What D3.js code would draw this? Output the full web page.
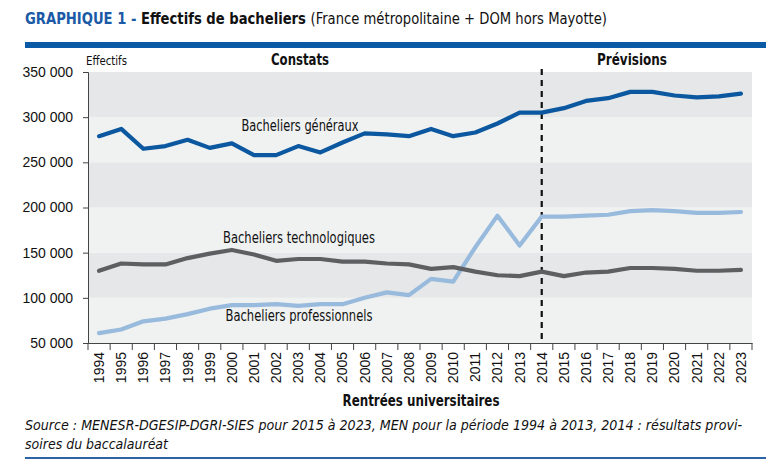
<!DOCTYPE html>
<html>
<head>
<meta charset="utf-8">
<script src="https://cdn.jsdelivr.net/npm/d3@7"></script>
<style>
  body { margin: 0; background: #fff; }
  svg { font-family: "Liberation Sans Narrow", "DejaVu Sans Condensed", "Roboto", sans-serif; }
</style>
</head>
<body>
<div id="chart"></div>
<script>
var years = d3.range(1994, 2024);

var generaux = [279000, 287000, 265000, 268000, 275000, 266000, 271000, 258000, 258000, 268000,
    261000, 272000, 282000, 281000, 279000, 287000, 279000, 283000, 293000, 305000,
    305000, 310000, 318000, 321000, 328000, 328000, 324000, 322000, 323000, 326000];
var technologiques = [130000, 138000, 137000, 137000, 144000, 149000, 153000, 148000, 141000, 143000,
    143000, 140000, 140000, 138000, 137000, 132000, 134000, 129000, 125000, 124000,
    129000, 124000, 128000, 129000, 133000, 133000, 132000, 130000, 130000, 131000];
var professionnels = [61000, 65000, 74000, 77000, 82000, 88000, 92000, 92000, 93000, 91000,
    93000, 93000, 100000, 106000, 103000, 121000, 118000, 156000, 191000, 158000,
    190000, 190000, 191000, 192000, 196000, 197000, 196000, 194000, 194000, 195000];
var yTicks = [50000, 100000, 150000, 200000, 250000, 300000, 350000];

var width = 775, height = 473;
var margin = {left: 88, right: 23, top: 72, bottom: 130};

var svg = d3.select("#chart").append("svg")
    .attr("width", width)
    .attr("height", height);

var x = d3.scaleBand()
    .domain(years)
    .range([margin.left, width - margin.right]);

var y = d3.scaleLinear()
    .domain([50000, 350000])
    .range([height - margin.bottom, margin.top]);

// title
var title = svg.append("text")
    .attr("x", 25)
    .attr("y", 24)
    .attr("textLength", 582)
    .attr("lengthAdjust", "spacingAndGlyphs")
    .style("font-size", "15px");
title.append("tspan").attr("fill", "#1b5aa6").attr("font-weight", "bold").text("GRAPHIQUE 1 - ");
title.append("tspan").attr("fill", "#111").attr("font-weight", "bold").text("Effectifs de bacheliers ");
title.append("tspan").attr("fill", "#111").text("(France métropolitaine + DOM hors Mayotte)");

svg.append("rect")
    .attr("x", 25).attr("y", 42)
    .attr("width", 741).attr("height", 6)
    .attr("fill", "#0b5aa6");

// background bands
var bands = svg.append("g");
for (var i = 0; i < yTicks.length - 1; i++) {
    bands.append("rect")
        .attr("x", margin.left)
        .attr("y", y(yTicks[i + 1]))
        .attr("width", x.range()[1] - margin.left)
        .attr("height", y(yTicks[i]) - y(yTicks[i + 1]))
        .attr("fill", i % 2 == 0 ? "#f0f1f1" : "#e6e7e8");
}

// axes
var yAxis = svg.append("g")
    .attr("transform", "translate(" + margin.left + ",0)")
    .call(d3.axisLeft(y)
        .tickValues(yTicks)
        .tickSize(5)
        .tickPadding(10)
        .tickFormat(function (d) { return d3.format(",")(d).replace(",", " "); }));
yAxis.selectAll("text").style("font-size", "14px").attr("fill", "#111");
yAxis.selectAll("line, path").attr("stroke", "#444");

var xAxis = svg.append("g")
    .attr("transform", "translate(0," + y(50000) + ")")
    .call(d3.axisBottom(x).tickSize(0).tickPadding(0));
xAxis.select("path").attr("stroke", "#444");
xAxis.selectAll("text")
    .style("font-size", "14px")
    .attr("fill", "#111")
    .attr("text-anchor", "end")
    .attr("dy", "0.35em")
    .attr("transform", "translate(0,9) rotate(-90)")
    .attr("x", 0).attr("y", 0);

// boundary ticks on x axis
svg.append("g").selectAll("line")
    .data(years.concat([2024]))
    .join("line")
    .attr("x1", function (d) { return d == 2024 ? x.range()[1] : x(d); })
    .attr("x2", function (d) { return d == 2024 ? x.range()[1] : x(d); })
    .attr("y1", y(50000))
    .attr("y2", y(50000) + 7)
    .attr("stroke", "#444");

// separation constats / previsions
svg.append("line")
    .attr("x1", x(2014) + x.bandwidth() / 2)
    .attr("x2", x(2014) + x.bandwidth() / 2)
    .attr("y1", margin.top - 3)
    .attr("y2", y(50000))
    .attr("stroke", "#111")
    .attr("stroke-width", 2.2)
    .attr("stroke-dasharray", "6,5");

// lines
var line = d3.line()
    .x(function (d, i) { return x(years[i]) + x.bandwidth() / 2; })
    .y(function (d) { return y(d); });

var series = [
    [professionnels, "#98badd"],
    [technologiques, "#5e5f61"],
    [generaux, "#0b58a0"]
];
series.forEach(function (s) {
    svg.append("path")
        .datum(s[0])
        .attr("d", line)
        .attr("fill", "none")
        .attr("stroke", s[1])
        .attr("stroke-width", 4.2)
        .attr("stroke-linejoin", "round")
        .attr("stroke-linecap", "round");
});

// labels
function label(txt, xx, yy, size, weight, len, anchor) {
    var t = svg.append("text")
        .attr("x", xx).attr("y", yy)
        .attr("text-anchor", anchor || "middle")
        .attr("font-weight", weight || "normal")
        .style("font-size", size + "px")
        .attr("fill", "#111")
        .text(txt);
    if (len) t.attr("textLength", len).attr("lengthAdjust", "spacingAndGlyphs");
    return t;
}
label("Effectifs", 86, 65, 12, "normal", 41, "start");
label("Constats", 300, 65, 16, "bold", 58);
label("Prévisions", 632, 65, 16, "bold", 70);
label("Bacheliers généraux", 300, 131, 15, "normal", 117);
label("Bacheliers technologiques", 299, 243, 15, "normal", 152);
label("Bacheliers professionnels", 299, 321, 15, "normal", 147);
label("Rentrées universitaires", 421, 406, 16, "bold", 157);

var src = svg.append("g").style("font-style", "italic").style("font-size", "13.5px");
src.append("text").attr("x", 25).attr("y", 430).attr("fill", "#111")
    .attr("textLength", 717).attr("lengthAdjust", "spacingAndGlyphs")
    .text("Source : MENESR-DGESIP-DGRI-SIES pour 2015 à 2023, MEN pour la période 1994 à 2013, 2014 : résultats provi-");
src.append("text").attr("x", 25).attr("y", 449).attr("fill", "#111")
    .attr("textLength", 143).attr("lengthAdjust", "spacingAndGlyphs")
    .text("soires du baccalauréat");

svg.append("rect")
    .attr("x", 25).attr("y", 457)
    .attr("width", 741).attr("height", 2)
    .attr("fill", "#2a63a8");
</script>
</body>
</html>
